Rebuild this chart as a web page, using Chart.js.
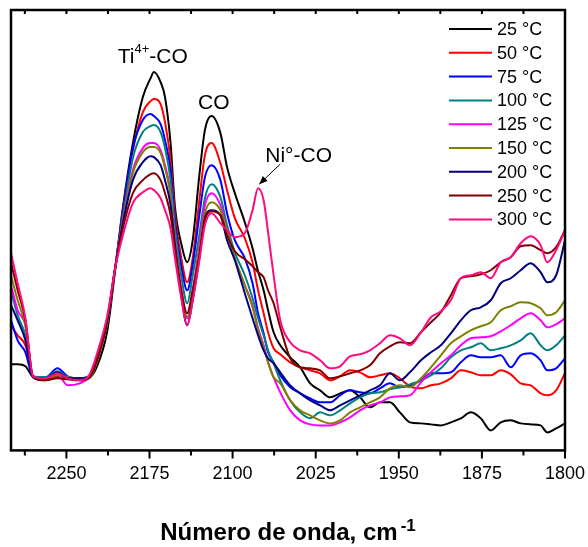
<!DOCTYPE html>
<html>
<head>
<meta charset="utf-8">
<script src="https://cdn.jsdelivr.net/npm/chart.js@4.4.1/dist/chart.umd.min.js"></script>
<style>
    html, body { margin: 0; padding: 0; background: #fff; }
    #wrap { width: 588px; height: 547px; }
</style>
</head>
<body>
<div id="wrap"><canvas id="irChart" width="588" height="547"></canvas></div>
<script>
// wavenumber grid (cm-1)
const wavenumbers = [2300, 2294, 2287, 2280, 2269, 2258, 2249, 2238, 2230, 2222, 2213, 2206, 2199, 2190, 2181, 2174,
    2171, 2165, 2161, 2156, 2152, 2146, 2141, 2136, 2130, 2125, 2119, 2111, 2105, 2098, 2089, 2082, 2077, 2072, 2068,
    2063, 2057, 2048, 2039, 2030, 2021, 2012, 2003, 1994, 1985, 1976, 1967, 1958, 1949, 1940, 1930, 1921, 1912, 1903,
    1894, 1885, 1876, 1867, 1858, 1849, 1840, 1831, 1822, 1816, 1808, 1800];

const xTicks = [2250, 2175, 2100, 2025, 1950, 1875, 1800];
const temps = ['25 °C', '50 °C', '75 °C', '100 °C', '125 °C', '150 °C', '200 °C', '250 °C', '300 °C'];
const colors = ['#000000', '#ff0000', '#0000ff', '#008080', '#ff00ff', '#808000', '#000080', '#800000', '#ff0a7f'];

// absorbance (arbitrary units)
const abs25 = [86, 86, 84, 73, 70, 74, 72, 71, 72, 85, 120, 180, 243, 307, 353, 372, 378, 368, 353, 307, 243, 205, 188,
    210, 275, 320, 334, 317, 283, 257, 228, 202, 179, 160, 140, 118, 105, 93, 83, 67, 60, 53, 57, 60, 53, 43, 48, 48, 38,
    28, 27, 26, 25, 28, 32, 38, 32, 20, 28, 30, 27, 26, 25, 18, 22, 27];
const abs50 = [125, 115, 105, 74, 72, 73, 72, 72, 73, 90, 128, 182, 240, 300, 338, 349, 351, 346, 328, 290, 235, 190,
    168, 192, 250, 295, 307, 287, 260, 232, 212, 188, 160, 137, 118, 102, 96, 88, 83, 80, 77, 70, 74, 80, 78, 73, 75, 77,
    72, 64, 62, 65, 67, 72, 80, 78, 75, 75, 80, 76, 67, 65, 57, 55, 60, 77];
const abs75 = [130, 110, 98, 73, 73, 82, 74, 72, 74, 93, 130, 182, 238, 302, 330, 336, 334, 326, 310, 280, 228, 182, 160,
    185, 235, 273, 285, 270, 237, 210, 192, 167, 137, 117, 98, 88, 75, 63, 57, 52, 48, 48, 55, 60, 58, 57, 62, 67, 63, 65,
    70, 77, 77, 78, 88, 95, 93, 93, 95, 83, 95, 97, 90, 80, 82, 92];
const abs100 = [160, 135, 115, 74, 73, 79, 73, 72, 74, 93, 130, 182, 233, 292, 318, 324, 325, 318, 302, 270, 222, 172,
    147, 175, 215, 252, 266, 253, 225, 198, 175, 152, 132, 115, 100, 87, 70, 50, 38, 32, 38, 35, 40, 47, 53, 57, 58, 61,
    63, 66, 70, 75, 82, 93, 100, 103, 107, 100, 102, 105, 110, 117, 105, 100, 105, 115];
const abs125 = [165, 140, 125, 73, 72, 76, 65, 67, 73, 93, 130, 182, 230, 280, 302, 307, 307, 300, 285, 258, 212, 160,
    132, 160, 205, 245, 257, 245, 220, 192, 165, 145, 122, 105, 88, 73, 58, 40, 30, 26, 25, 25, 28, 33, 40, 45, 48, 53, 54,
    55, 68, 78, 87, 95, 105, 112, 113, 114, 119, 125, 132, 137, 130, 123, 126, 132];
const abs150 = [175, 150, 125, 73, 72, 75, 73, 72, 72, 90, 128, 182, 229, 277, 298, 303, 303, 297, 282, 255, 210, 158,
    133, 158, 200, 237, 248, 240, 220, 192, 165, 143, 120, 103, 88, 73, 67, 50, 40, 35, 30, 27, 30, 38, 43, 48, 53, 62, 65,
    63, 72, 83, 95, 107, 114, 120, 124, 128, 140, 144, 148, 147, 142, 135, 138, 150];
const abs200 = [145, 130, 110, 73, 72, 78, 72, 72, 73, 92, 130, 182, 227, 270, 288, 294, 293, 285, 270, 245, 205, 152,
    125, 150, 192, 232, 240, 235, 210, 190, 157, 132, 115, 100, 92, 87, 78, 65, 57, 50, 45, 40, 45, 50, 55, 60, 65, 77, 70,
    78, 90, 98, 105, 117, 130, 140, 143, 150, 167, 172, 180, 187, 178, 168, 175, 210];
const abs250 = [188, 160, 130, 74, 70, 72, 71, 70, 72, 92, 132, 182, 222, 257, 270, 276, 277, 270, 257, 235, 200, 157,
    137, 160, 195, 230, 239, 235, 215, 199, 191, 184, 178, 173, 160, 147, 123, 92, 83, 82, 80, 72, 74, 77, 80, 85, 97, 104,
    108, 107, 118, 128, 138, 155, 172, 174, 176, 180, 188, 193, 204, 205, 200, 197, 203, 220];
const abs300 = [197, 167, 132, 74, 72, 77, 72, 70, 74, 98, 135, 182, 215, 247, 258, 262, 260, 252, 240, 222, 192, 150,
    125, 150, 190, 225, 237, 227, 220, 213, 217, 240, 262, 250, 218, 175, 130, 108, 100, 97, 90, 82, 84, 94, 96, 100, 107,
    115, 112, 105, 118, 133, 139, 150, 172, 175, 178, 172, 188, 193, 207, 214, 205, 188, 200, 220];

const series = [abs25, abs50, abs75, abs100, abs125, abs150, abs200, abs250, abs300];
const FONT = '"Liberation Sans", Arial, sans-serif';

// frame, tick marks, legend, peak labels and axis title
const decorPlugin = {
    id: 'decor',
    afterDraw(chart) {
        const ctx = chart.ctx;
        const a = chart.chartArea;
        const x = chart.scales.x;
        const y = chart.scales.y;
        ctx.save();
        ctx.strokeStyle = '#000';
        ctx.lineWidth = 2.5;
        ctx.strokeRect(a.left, a.top, a.right - a.left, a.bottom - a.top);

        ctx.lineWidth = 2;
        for (let v = 1800; v < 2300; v += 37.5) {
            const px = x.getPixelForValue(v);
            const major = (v - 1800) % 75 === 0;
            ctx.beginPath();
            ctx.moveTo(px, a.bottom);
            ctx.lineTo(px, a.bottom + (major ? 8 : 5));
            ctx.moveTo(px, a.top);
            ctx.lineTo(px, a.top + 4);
            ctx.stroke();
        }

        // legend
        ctx.font = '18px ' + FONT;
        ctx.textBaseline = 'middle';
        ctx.textAlign = 'left';
        chart.data.datasets.forEach(function(ds, i) {
            const ly = 29 + i * 23.8;
            ctx.strokeStyle = ds.borderColor;
            ctx.lineWidth = 2;
            ctx.beginPath();
            ctx.moveTo(449, ly);
            ctx.lineTo(492, ly);
            ctx.stroke();
            ctx.fillStyle = '#000';
            ctx.fillText(ds.label, 497, ly + 1);
        });

        // peak labels
        ctx.fillStyle = '#000';
        ctx.textBaseline = 'alphabetic';
        const big = '21px ' + FONT;
        const small = '13px ' + FONT;
        ctx.font = big;
        const wTi = ctx.measureText('Ti').width;
        const wCO = ctx.measureText('-CO').width;
        ctx.font = small;
        const w4 = ctx.measureText('4+').width;
        let tx = x.getPixelForValue(2172) - (wTi + w4 + wCO) / 2;
        const ty = y.getPixelForValue(387);
        ctx.font = big;
        ctx.fillText('Ti', tx, ty);
        ctx.font = small;
        ctx.fillText('4+', tx + wTi, ty - 10);
        ctx.font = big;
        ctx.fillText('-CO', tx + wTi + w4, ty);

        ctx.textAlign = 'center';
        ctx.fillText('CO', x.getPixelForValue(2117), y.getPixelForValue(341));
        ctx.textAlign = 'left';
        ctx.fillText('Ni°-CO', x.getPixelForValue(2070.5), y.getPixelForValue(288));

        // arrow to the Ni°-CO band
        const x0 = x.getPixelForValue(2057), y0 = y.getPixelForValue(286);
        const x1 = x.getPixelForValue(2076), y1 = y.getPixelForValue(266);
        const ang = Math.atan2(y1 - y0, x1 - x0);
        ctx.strokeStyle = '#000';
        ctx.lineWidth = 1;
        ctx.beginPath();
        ctx.moveTo(x0, y0);
        ctx.lineTo(x1, y1);
        ctx.stroke();
        ctx.beginPath();
        ctx.moveTo(x1, y1);
        ctx.lineTo(x1 - 9 * Math.cos(ang - 0.4), y1 - 9 * Math.sin(ang - 0.4));
        ctx.lineTo(x1 - 9 * Math.cos(ang + 0.4), y1 - 9 * Math.sin(ang + 0.4));
        ctx.closePath();
        ctx.fill();

        // axis title with superscript
        const main = 'Número de onda, cm';
        const sup = '-1';
        ctx.font = 'bold 24px ' + FONT;
        const wMain = ctx.measureText(main).width;
        ctx.font = 'bold 17px ' + FONT;
        const wSup = ctx.measureText(sup).width;
        const cx = (a.left + a.right) / 2;
        const sx = cx - (wMain + 3 + wSup) / 2;
        ctx.font = 'bold 24px ' + FONT;
        ctx.fillText(main, sx, 540);
        ctx.font = 'bold 17px ' + FONT;
        ctx.fillText(sup, sx + wMain + 3, 531);
        ctx.restore();
    }
};

document.addEventListener('DOMContentLoaded', function() {
    const ctx = document.getElementById('irChart').getContext('2d');
    new Chart(ctx, {
        type: 'line',
        data: {
            datasets: series.map(function(vals, i) {
                return {
                    label: temps[i],
                    data: wavenumbers.map(function(w, j) { return { x: w, y: vals[j] }; }),
                    borderColor: colors[i],
                    borderWidth: 2,
                    pointRadius: 0,
                    fill: false,
                    cubicInterpolationMode: 'monotone',
                    order: series.length - 1 - i
                };
            })
        },
        options: {
            responsive: false,
            animation: false,
            devicePixelRatio: 1,
            layout: { padding: { left: 11, right: 23, top: 10, bottom: 49 } },
            plugins: {
                legend: { display: false },
                tooltip: { enabled: false },
                title: { display: false }
            },
            scales: {
                x: {
                    type: 'linear',
                    reverse: true,
                    min: 1800,
                    max: 2300,
                    afterBuildTicks: function(scale) {
                        scale.ticks = xTicks.map(function(v) { return { value: v }; });
                    },
                    afterFit: function(scale) {
                        scale.paddingLeft = 0;
                        scale.paddingRight = 0;
                    },
                    grid: { display: false, drawTicks: false },
                    border: { display: false },
                    ticks: {
                        padding: 13,
                        color: '#000',
                        maxRotation: 0,
                        autoSkip: false,
                        font: { family: FONT, size: 18 },
                        callback: function(value) { return String(value); }
                    }
                },
                y: {
                    display: false,
                    min: 0,
                    max: 440
                }
            }
        },
        plugins: [decorPlugin]
    });
});
</script>
</body>
</html>
